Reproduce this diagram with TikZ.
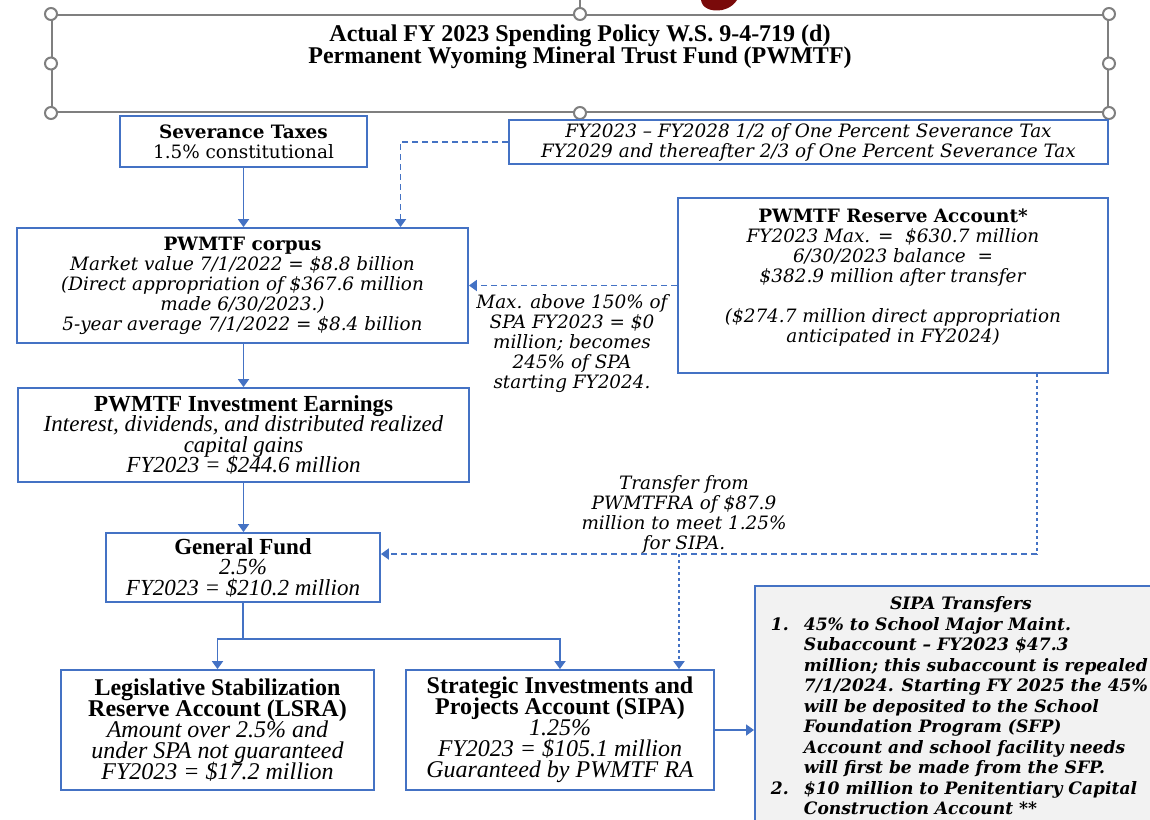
\documentclass[tikz,border=0pt]{standalone}
\usepackage{fontspec}
\setmainfont{Liberation Serif}
\newfontfamily\bookfont{DejaVu Serif}
\usetikzlibrary{arrows.meta,calc}
\definecolor{boxblue}{HTML}{4472C4}
\definecolor{framegray}{HTML}{7F7F7F}
\definecolor{notegray}{HTML}{F2F2F2}
\definecolor{inkred}{HTML}{7A0A0A}
\newcommand{\tms}{\fontsize{11.5}{10.2}\selectfont\lineskiplimit=-10pt}
\newcommand{\tmsbig}{\fontsize{12}{10.5}\selectfont\lineskiplimit=-10pt}
\newcommand{\bkm}{\bookfont\fontsize{9.2}{10}\selectfont\lineskiplimit=-10pt}
\newcommand{\sipafont}{\bookfont\bfseries\itshape\fontsize{8.55}{10.25}\selectfont\lineskiplimit=-10pt}

\begin{document}
\begin{tikzpicture}[x=0.5pt,y=-0.5pt,
    acct/.style={draw=boxblue, line width=0.9pt, align=center, inner sep=0pt},
    link/.style={boxblue, line width=0.9pt, -{Triangle[width=5.5pt,length=4pt]}},
    dashlink/.style={link, dash pattern=on 3pt off 2pt},
    dotlink/.style={link, dash pattern=on 1.6pt off 1.4pt},
    handle/.style={draw=framegray, line width=1pt, fill=white},
    note/.style={align=center, inner sep=0pt}]
\useasboundingbox (0,0) rectangle (1150,819);

% Title frame with its handles
\fill[inkred] (701,0) .. controls (702,8) and (711,12) .. (722,10) .. controls (731,8) and (735,3) .. (737,0) -- cycle;
\node[draw=framegray, line width=1pt, minimum width=528pt, minimum height=48.5pt] (title) at (580,63.5) {};
\draw[framegray, line width=1pt] (title.north) -- ++(0,-20);
\foreach \a in {north west,north,north east,west,east,south west,south,south east}
    \draw[handle] (title.\a) circle (3pt);
\node[note, font=\fontsize{12}{11}\selectfont\bfseries] (titletext) at (580,47)
    {Actual FY 2023 Spending Policy W.S. 9-4-719 (d)\\Permanent Wyoming Mineral Trust Fund (PWMTF)};

% Sources
\node[acct, minimum width=123.5pt, minimum height=25.5pt, font=\bkm] (sev) at (243.5,141.5)
    {\textbf{Severance Taxes}\\1.5\% constitutional};
\node[acct, minimum width=299.5pt, minimum height=22pt, font=\bkm\itshape] (fy) at (808.5,142)
    {FY2023 – FY2028 1/2 of One Percent Severance Tax\\FY2029 and thereafter 2/3 of One Percent Severance Tax};

% Corpus and reserve
\node[acct, minimum width=225.5pt, minimum height=57.5pt, font=\bkm] (corpus) at (242.5,285.5)
    {\textbf{PWMTF corpus}\\\textit{Market value 7/1/2022 = \$8.8 billion}\\\textit{(Direct appropriation of \$367.6 million}\\\textit{made 6/30/2023.)}\\\textit{5-year average 7/1/2022 = \$8.4 billion}};
\node[acct, minimum width=215pt, minimum height=87.5pt, font=\bkm] (reserve) at (893,285.5)
    {\textbf{PWMTF Reserve Account*}\\\textit{FY2023 Max. = \ \$630.7 million}\\\textit{6/30/2023 balance \ =}\\\textit{\$382.9 million after transfer}\\[10pt]\textit{(\$274.7 million direct appropriation}\\\textit{anticipated in FY2024)}\\ \mbox{}};
\node[note, font=\bkm\itshape] (maxnote) at (572,344)
    {Max. above 150\% of\\SPA FY2023 = \$0\\million; becomes\\245\% of SPA\\starting FY2024.};

% Earnings and general fund
\node[acct, minimum width=225.5pt, minimum height=47pt, font=\tms] (earn) at (243.5,435)
    {\textbf{PWMTF Investment Earnings}\\\textit{Interest, dividends, and distributed realized}\\\textit{capital gains}\\\textit{FY2023 = \$244.6 million}};
\node[acct, minimum width=137pt, minimum height=34.5pt, font=\tms] (gf) at (243,567.5)
    {\textbf{General Fund}\\\textit{2.5\%}\\\textit{FY2023 = \$210.2 million}};
\node[note, font=\bkm\itshape] (transnote) at (684,514)
    {Transfer from\\PWMTFRA of \$87.9\\million to meet 1.25\%\\for SIPA.};

% Accounts
\node[acct, minimum width=156.5pt, minimum height=60pt, font=\tmsbig] (lsra) at (217.5,730)
    {\textbf{Legislative Stabilization}\\\textbf{Reserve Account (LSRA)}\\\textit{Amount over 2.5\% and}\\\textit{under SPA not guaranteed}\\\textit{FY2023 = \$17.2 million}};
\node[acct, minimum width=154pt, minimum height=60pt, font=\tmsbig] (sipa) at (560,730)
    {\textbf{Strategic Investments and}\\\textbf{Projects Account (SIPA)}\\\textit{1.25\%}\\\textit{FY2023 = \$105.1 million}\\\textit{Guaranteed by PWMTF RA}};
\node[draw=boxblue, line width=0.9pt, fill=notegray, anchor=north west, inner xsep=8pt, inner ysep=5.5pt,
      align=left, minimum width=206pt, font=\sipafont] (transfers) at (754,585)
    {\makebox[190pt]{SIPA Transfers}\\
     \makebox[16.5pt][l]{1.}45\% to School Major Maint.\\
     \hspace*{16.5pt}Subaccount – FY2023 \$47.3\\
     \hspace*{16.5pt}million; this subaccount is repealed\\
     \hspace*{16.5pt}7/1/2024. Starting FY 2025 the 45\%\\
     \hspace*{16.5pt}will be deposited to the School\\
     \hspace*{16.5pt}Foundation Program (SFP)\\
     \hspace*{16.5pt}Account and school facility needs\\
     \hspace*{16.5pt}will first be made from the SFP.\\
     \makebox[16.5pt][l]{2.}\$10 million to Penitentiary Capital\\
     \hspace*{16.5pt}Construction Account **\\ \mbox{}};

% Flows
\coordinate (fork) at (243,639);
\coordinate (bend) at (1037,554);
\coordinate (split) at (679,554);
\draw[link] (sev.south) -- (sev.south |- corpus.north);
\draw[dashlink] (fy.west) -| ([xshift=79pt]corpus.north);
\draw[dashlink] (reserve.west) -- (corpus.east);
\draw[link] (corpus.south -| earn.north) -- (earn.north);
\draw[link] (earn.south) -- (earn.south |- gf.north);
\draw[dotlink, -] (reserve.south -| bend) -- (bend);
\draw[dashlink] (bend) -- (bend -| gf.east);
\draw[dotlink] (split) -- (split |- sipa.north);
\draw[boxblue, line width=0.9pt] (gf.south -| fork) -- (fork);
\draw[link] (fork) -| (lsra.north);
\draw[link] (fork) -| (sipa.north);
\draw[link] (sipa.east) -- (sipa.east -| transfers.west);
\end{tikzpicture}
\end{document}
